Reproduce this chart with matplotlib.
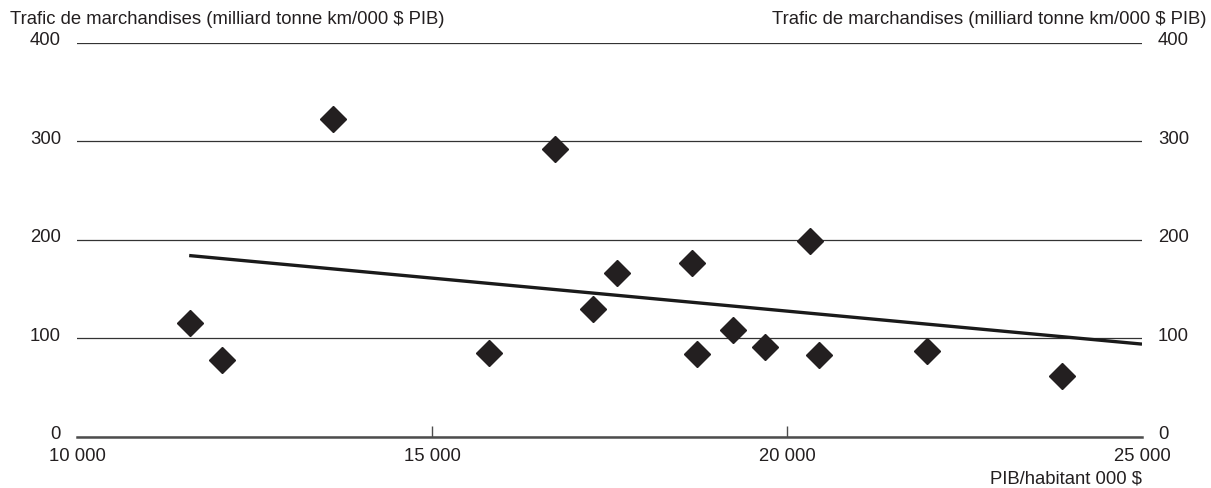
import matplotlib
matplotlib.use("Agg")
import matplotlib.pyplot as plt
from matplotlib.transforms import ScaledTranslation

# PIB/habitant vs trafic de marchandises
pib = [11590, 12040, 13610, 15800, 16730, 17270, 17600, 18660, 18730,
       19240, 19690, 20320, 20455, 21975, 23870]
trafic = [115, 78, 323, 85, 292, 130, 166, 176, 84,
          108, 91, 199, 83, 87, 62]

# tendance (droite)
trend_x = [11580, 25000]
trend_y = [184, 94]

x_ticks = [10000, 15000, 20000, 25000]
x_labels = ["10 000", "15 000", "20 000", "25 000"]
y_ticks = [0, 100, 200, 300, 400]

plt.rcParams['font.family'] = ['Liberation Sans', 'DejaVu Sans']
plt.rcParams['font.size'] = 13.3
txt_col = '#231f20'

fig = plt.figure(figsize=(12.11, 4.88), dpi=100)
ax = fig.add_axes([77/1211, 1 - 436.6/488, 1065/1211, 393.6/488])

ax.plot(trend_x, trend_y, color='#1a1a1a', lw=2.4, zorder=3, solid_capstyle='butt')
ax.plot(pib, trafic, linestyle='none', marker='D', markersize=13.3,
        color='#231f20', zorder=4)

ax.set_xlim(10000, 25000)
ax.set_ylim(0, 400)
for s in ['left', 'right', 'top']:
    ax.spines[s].set_visible(False)
ax.spines['bottom'].set_color('#4d4d4d')
ax.spines['bottom'].set_linewidth(1.8)

ax.set_yticks(y_ticks)
ax.yaxis.grid(True, color='#333333', lw=0.9)
ax.set_axisbelow(True)
ax.tick_params(axis='y', left=False, right=False, labelleft=True,
               labelright=True, pad=8, labelcolor=txt_col)

ax.set_xticks(x_ticks)
ax.set_xticklabels(x_labels)
ax.tick_params(axis='x', direction='in', length=8, width=1, color='#4d4d4d',
               pad=8, labelcolor=txt_col)
xt = ax.xaxis.get_major_ticks()
xt[0].tick1line.set_visible(False)
xt[-1].tick1line.set_visible(False)

# labels un peu au-dessus des lignes
off = ScaledTranslation(0, 3/72, fig.dpi_scale_trans)
for t in ax.yaxis.get_major_ticks():
    t.label1.set_transform(t.label1.get_transform() + off)
    t.label2.set_transform(t.label2.get_transform() + off)

fig.text(10/1211, 1 - 19/488, "Trafic de marchandises (milliard tonne km/000 $ PIB)",
         ha='left', va='center', color=txt_col)
fig.text(1207/1211, 1 - 19/488, "Trafic de marchandises (milliard tonne km/000 $ PIB)",
         ha='right', va='center', color=txt_col)
fig.text(1142/1211, 1 - 479/488, "PIB/habitant 000 $", ha='right', va='center',
         color=txt_col)

fig.savefig('out.png', dpi=100)
